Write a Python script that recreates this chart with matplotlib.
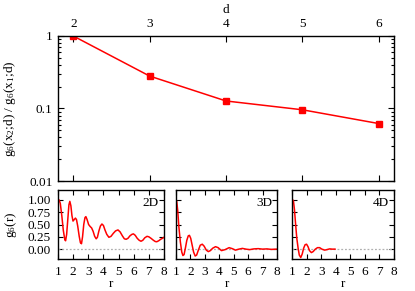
import matplotlib
matplotlib.use("Agg")
import matplotlib.pyplot as plt
from matplotlib.ticker import LogLocator, NullFormatter, FixedFormatter

plt.rcParams['font.family'] = ['Liberation Serif', 'DejaVu Serif']
plt.rcParams['font.size'] = 9.5
plt.rcParams['mathtext.fontset'] = 'custom'
plt.rcParams['mathtext.rm'] = 'Liberation Serif'

# ratio g6(x2;d)/g6(x1;d) vs dimension
dims = [2, 3, 4, 5, 6]
ratio = [1.0, 0.28, 0.127, 0.096, 0.062]

# g6(r) curves
r_2d = [1.0, 1.07, 1.15, 1.25, 1.35, 1.45, 1.5, 1.57, 1.65, 1.72, 1.78, 1.85, 1.92, 1.99,
        2.07, 2.15, 2.22, 2.3, 2.4, 2.48, 2.55, 2.62, 2.7, 2.78, 2.84, 2.92, 3.02, 3.12,
        3.22, 3.32, 3.42, 3.52, 3.6, 3.7, 3.8, 3.9, 4.0, 4.1, 4.22, 4.36, 4.5, 4.65,
        4.8, 4.96, 5.1, 5.25, 5.38, 5.5, 5.62, 5.75, 5.88, 5.98, 6.1, 6.23, 6.36, 6.48,
        6.6, 6.73, 6.88, 7.0, 7.14, 7.3, 7.42, 7.52, 7.65, 7.78, 7.9, 8.0]
g_2d = [0.99, 1.0, 0.93, 0.68, 0.38, 0.19, 0.17, 0.3, 0.62, 0.9, 0.97, 0.88, 0.68, 0.57,
        0.6, 0.63, 0.6, 0.47, 0.26, 0.13, 0.11, 0.25, 0.5, 0.64, 0.66, 0.6, 0.5, 0.46,
        0.43, 0.36, 0.26, 0.21, 0.24, 0.37, 0.47, 0.51, 0.48, 0.39, 0.3, 0.24, 0.26, 0.32,
        0.37, 0.39, 0.35, 0.27, 0.21, 0.2, 0.22, 0.27, 0.3, 0.31, 0.28, 0.22, 0.18, 0.16,
        0.18, 0.23, 0.26, 0.25, 0.22, 0.18, 0.155, 0.15, 0.17, 0.2, 0.22, 0.24]

r_3d = [1.0, 1.05, 1.12, 1.2, 1.3, 1.4, 1.48, 1.56, 1.65, 1.75, 1.85, 1.93, 2.02, 2.12,
        2.22, 2.33, 2.43, 2.55, 2.68, 2.82, 2.95, 3.1, 3.24, 3.38, 3.55, 3.74, 3.92,
        4.15, 4.4, 4.68, 4.9, 5.12, 5.36, 5.6, 5.85, 6.1, 6.4, 6.7, 7.0, 7.3, 7.6, 8.0]
g_3d = [1.0, 0.97, 0.78, 0.45, 0.15, -0.06, -0.13, -0.11, 0.02, 0.18, 0.27, 0.28, 0.22,
        0.08, -0.06, -0.14, -0.12, -0.02, 0.08, 0.1, 0.06, -0.02, -0.05, -0.03, 0.02,
        0.05, 0.03, -0.03, -0.01, 0.03, 0.01, -0.02, 0.0, 0.015, 0.0, -0.01, 0.005,
        0.01, 0.0, 0.005, -0.005, 0.0]

r_4d = [1.0, 1.05, 1.1, 1.17, 1.25, 1.33, 1.42, 1.5, 1.6, 1.7, 1.8, 1.9, 2.0, 2.1,
        2.2, 2.33, 2.45, 2.6, 2.75, 2.9, 3.05, 3.24, 3.4, 3.58, 3.75, 3.95]
g_4d = [0.93, 1.0, 0.98, 0.8, 0.5, 0.22, 0.02, -0.12, -0.17, -0.1, 0.02, 0.09, 0.1,
        0.05, -0.03, -0.07, -0.05, 0.0, 0.03, 0.03, 0.0, -0.02, -0.01, 0.005, 0.0, 0.0]

panels = [("2D", r_2d, g_2d), ("3D", r_3d, g_3d), ("4D", r_4d, g_4d)]
r_ticks = [1, 2, 3, 4, 5, 6, 7, 8]
g_ticks = [0.0, 0.25, 0.5, 0.75, 1.0]

fig = plt.figure(figsize=(4.15, 2.91), dpi=100)

ax = fig.add_axes([0.1398, 0.378, 0.8096, 0.4983])
ax.plot(dims, ratio, color='red', lw=1.1, marker='s', ms=4)
ax.set_yscale('log')
ax.set_xlim(1.8, 6.2)
ax.set_ylim(0.01, 1)
ax.set_xticks(dims)
ax.set_yticks([0.01, 0.1, 1])
ax.yaxis.set_major_formatter(FixedFormatter(['0.01', '0.1', '1']))
ax.yaxis.set_minor_locator(LogLocator(base=10, subs=range(2, 10)))
ax.yaxis.set_minor_formatter(NullFormatter())
ax.tick_params(which='both', direction='in', top=True, right=True,
               labeltop=True, labelbottom=False, width=0.8)
ax.tick_params(which='major', length=4, pad=4)
ax.tick_params(which='minor', length=2)
ax.xaxis.set_label_position('top')
ax.set_xlabel('d', labelpad=4)
ax.set_ylabel(r'g$\mathregular{_6}$(x$\mathregular{_2}$;d) / g$\mathregular{_6}$(x$\mathregular{_1}$;d)', labelpad=8)
for s in ax.spines.values():
    s.set_linewidth(1.0)

boxes = [[0.1398, 0.110, 0.2554, 0.237],
         [0.4241, 0.110, 0.2434, 0.237],
         [0.7036, 0.110, 0.2458, 0.237]]

for i, (name, r, g) in enumerate(panels):
    a = fig.add_axes(boxes[i])
    a.axhline(0, color='#b0b0b0', lw=0.9, ls=(0, (1.5, 1.5)))
    a.plot(r, g, color='red', lw=1.1)
    a.set_xlim(1, 8)
    a.set_ylim(-0.2, 1.2)
    a.set_xticks(r_ticks)
    a.set_yticks(g_ticks)
    a.tick_params(direction='in', top=True, right=True, length=3.5, width=0.8, pad=5)
    if i == 0:
        a.set_yticklabels(['0.00', '0.25', '0.50', '0.75', '1.00'])
        a.set_ylabel(r'g$\mathregular{_6}$(r)', labelpad=6)
    else:
        a.set_yticklabels([])
    a.set_xlabel('r', labelpad=0)
    a.text(0.95, 0.9, name, transform=a.transAxes, ha='right', va='top')
    for s in a.spines.values():
        s.set_linewidth(1.0)

fig.savefig('out.png', dpi=100)
